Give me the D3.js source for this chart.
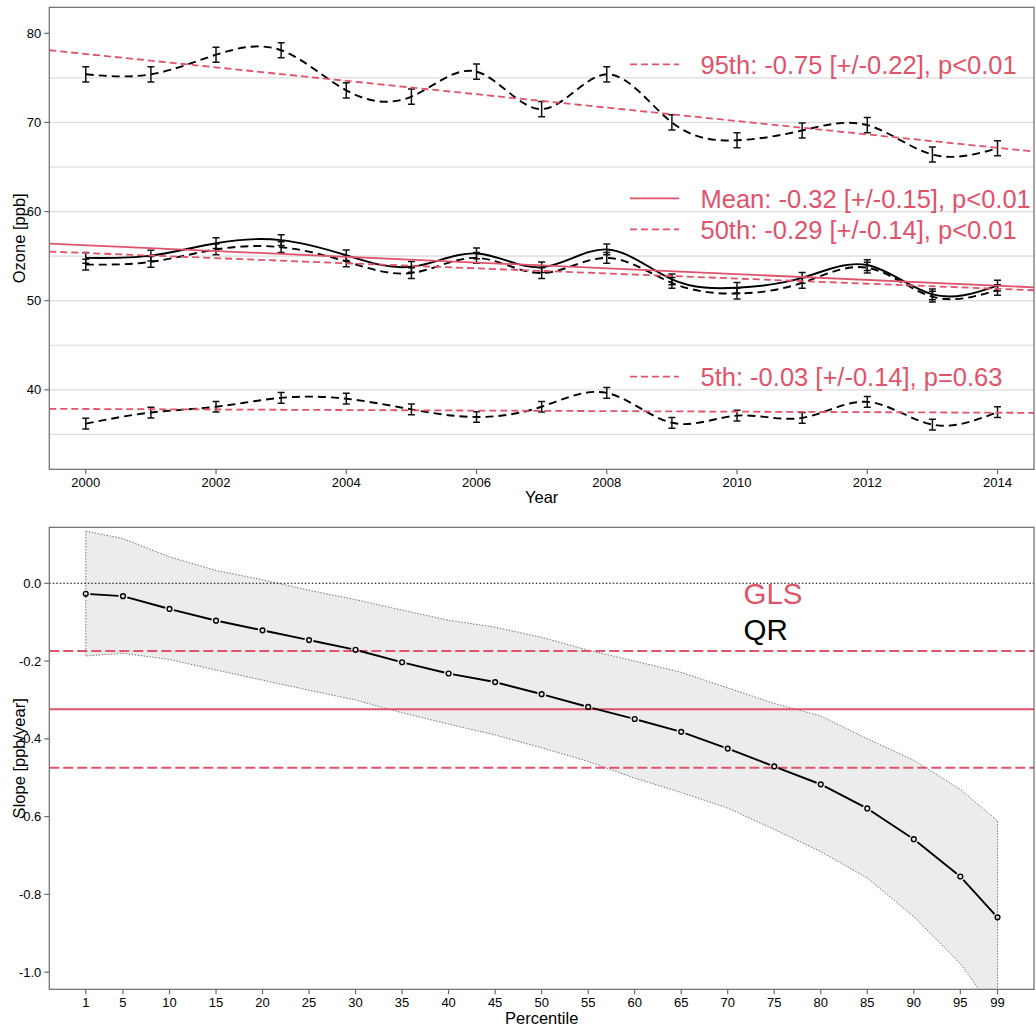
<!DOCTYPE html>
<html>
<head>
<meta charset="utf-8">
<script src="https://cdn.jsdelivr.net/npm/d3@7"></script>
<style>
  body { margin: 0; background: #fff; }
  svg { display: block; }
  text { font-family: "Liberation Sans", Arial, Helvetica, sans-serif; fill: #000; }
</style>
</head>
<body>
<svg id="chart" width="1036" height="1028"></svg>
<script>
// ---- Annual ozone statistics (ppb) ----
const years = [2000, 2001, 2002, 2003, 2004, 2005, 2006, 2007, 2008, 2009, 2010, 2011, 2012, 2013, 2014];
const p95   = [75.4, 75.4, 77.6, 78.1, 73.6, 72.9, 75.7, 71.5, 75.4, 70.0, 68.0, 69.1, 69.7, 66.4, 67.1];
const err95 = [0.85, 0.85, 0.85, 0.85, 0.85, 0.85, 0.85, 0.85, 0.85, 0.85, 0.85, 0.85, 0.85, 0.85, 0.85];
const meanO3  = [54.8, 55.05, 56.45, 56.8, 55.1, 53.8, 55.3, 53.75, 55.75, 52.4, 51.45, 52.55, 54.0, 50.7, 51.7];
const errMean = [0.6, 0.6, 0.6, 0.6, 0.6, 0.6, 0.6, 0.6, 0.6, 0.6, 0.6, 0.6, 0.6, 0.6, 0.6];
const p50   = [54.05, 54.35, 55.75, 56.0, 54.4, 53.1, 54.8, 53.1, 54.8, 52.0, 50.8, 52.0, 53.7, 50.45, 51.2];
const err50 = [0.6, 0.6, 0.6, 0.6, 0.6, 0.6, 0.6, 0.6, 0.6, 0.6, 0.6, 0.6, 0.6, 0.6, 0.6];
const p5    = [36.2, 37.45, 38.1, 39.1, 39.0, 37.8, 36.95, 38.1, 39.65, 36.3, 37.1, 36.85, 38.65, 36.1, 37.5];
const err5  = [0.6, 0.6, 0.6, 0.6, 0.6, 0.6, 0.6, 0.6, 0.6, 0.6, 0.6, 0.6, 0.6, 0.6, 0.6];

// ---- GLS trend fits: name, slope (ppb/yr), 95% half-width, value at 2000, p-value ----
const trendNames      = ["95th", "Mean", "50th", "5th"];
const trendSlopes     = [-0.752, -0.324, -0.287, -0.030];
const trendCI         = [0.22, 0.15, 0.14, 0.14];
const trendAt2000     = [77.68, 56.22, 55.35, 37.85];
const trendP          = ["p<0.01", "p<0.01", "p<0.01", "p=0.63"];
const trendSolid      = [false, true, false, false];

// ---- Quantile regression slopes by percentile (ppb/year) ----
const percentiles = [1, 5, 10, 15, 20, 25, 30, 35, 40, 45, 50, 55, 60, 65, 70, 75, 80, 85, 90, 95, 99];
const qrSlope = [-0.027, -0.033, -0.066, -0.096, -0.121, -0.146, -0.171, -0.203, -0.232, -0.254, -0.285,
                 -0.318, -0.349, -0.382, -0.425, -0.471, -0.517, -0.579, -0.658, -0.754, -0.859];
const qrUpper = [0.134, 0.115, 0.068, 0.033, 0.009, -0.018, -0.042, -0.069, -0.095, -0.113, -0.139,
                 -0.172, -0.200, -0.229, -0.269, -0.309, -0.341, -0.400, -0.455, -0.530, -0.611];
const qrLower = [-0.187, -0.180, -0.196, -0.223, -0.249, -0.275, -0.300, -0.333, -0.362, -0.390, -0.423,
                 -0.458, -0.501, -0.538, -0.578, -0.633, -0.690, -0.758, -0.857, -0.978, -1.11];

// ---- Axis ticks ----
const yearTicks = [2000, 2002, 2004, 2006, 2008, 2010, 2012, 2014];
const ozoneTicks = [40, 50, 60, 70, 80];
const ozoneGrid = [35, 40, 45, 50, 55, 60, 65, 70, 75];
const slopeTicks = [0, -0.2, -0.4, -0.6, -0.8, -1.0];
const slopeTickLabels = ["0.0", "-0.2", "-0.4", "-0.6", "-0.8", "-1.0"];
const pctTicks = [1, 5, 10, 15, 20, 25, 30, 35, 40, 45, 50, 55, 60, 65, 70, 75, 80, 85, 90, 95, 99];

const RED = "#DF536B";
const FRAME = "#6b6b6b";
const svg = d3.select("#chart");

// Shared horizontal extent of both panels
const L = 49.3, R = 1034;

// R-style padded domain (4% on each side)
function padded(lo, hi) { const p = (hi - lo) * 0.04; return [lo - p, hi + p]; }

// ================= Top panel: ozone time series =================
const panelA = { t: 7.3, b: 469.3 };
const x1 = d3.scaleLinear().domain(padded(2000, 2014)).range([L, R]);
const y1 = d3.scaleLinear().domain(padded(33, 81)).range([panelA.b, panelA.t]);

const defs = svg.append("defs");
defs.append("clipPath").attr("id", "clipTop")
  .append("rect").attr("x", L).attr("y", panelA.t).attr("width", R - L).attr("height", panelA.b - panelA.t);
defs.append("clipPath").attr("id", "clipBot")
  .append("rect").attr("x", L).attr("y", 527.3).attr("width", R - L).attr("height", 989.3 - 527.3);

const gTop = svg.append("g");
gTop.selectAll("line.grid").data(ozoneGrid).join("line")
  .attr("class", "grid")
  .attr("x1", L).attr("x2", R)
  .attr("y1", d => y1(d)).attr("y2", d => y1(d))
  .attr("stroke", "#dcdcdc").attr("stroke-width", 1.2);

const plotTop = gTop.append("g").attr("clip-path", "url(#clipTop)");

const seriesList = [
  { vals: p95, err: err95, dash: "8,5" },
  { vals: meanO3, err: errMean, dash: null },
  { vals: p50, err: err50, dash: "8,5" },
  { vals: p5, err: err5, dash: "8,5" }
];

const spline = d3.line().x(d => x1(d[0])).y(d => y1(d[1])).curve(d3.curveNatural);

seriesList.forEach(s => {
  const pts = years.map((yr, i) => [yr, s.vals[i], s.err[i]]);
  plotTop.append("path")
    .attr("d", spline(pts))
    .attr("fill", "none").attr("stroke", "#000").attr("stroke-width", 1.9)
    .attr("stroke-dasharray", s.dash);
  const eb = plotTop.append("g").attr("stroke", "#111").attr("stroke-width", 1.5);
  pts.forEach(p => {
    const cx = x1(p[0]), ya = y1(p[1] + p[2]), yb = y1(p[1] - p[2]);
    eb.append("line").attr("x1", cx).attr("x2", cx).attr("y1", ya).attr("y2", yb);
    eb.append("line").attr("x1", cx - 3.5).attr("x2", cx + 3.5).attr("y1", ya).attr("y2", ya);
    eb.append("line").attr("x1", cx - 3.5).attr("x2", cx + 3.5).attr("y1", yb).attr("y2", yb);
  });
});

// GLS trend lines
const xDom = x1.domain();
trendNames.forEach((n, i) => {
  const f = yr => trendAt2000[i] + trendSlopes[i] * (yr - 2000);
  plotTop.append("line")
    .attr("x1", x1(xDom[0])).attr("x2", x1(xDom[1]))
    .attr("y1", y1(f(xDom[0]))).attr("y2", y1(f(xDom[1])))
    .attr("stroke", RED).attr("stroke-width", 1.8)
    .attr("stroke-dasharray", trendSolid[i] ? null : "7,4");
});

// Trend legend entries
const legendY = [64.3, 198.3, 229.3, 376.7];
trendNames.forEach((n, i) => {
  gTop.append("line")
    .attr("x1", 630).attr("x2", 679)
    .attr("y1", legendY[i]).attr("y2", legendY[i])
    .attr("stroke", RED).attr("stroke-width", 1.8)
    .attr("stroke-dasharray", trendSolid[i] ? null : "7,4");
  gTop.append("text")
    .attr("x", 700.5).attr("y", legendY[i] + 9.5)
    .attr("font-size", 25.5).style("fill", RED)
    .text(`${n}: ${trendSlopes[i].toFixed(2)} [+/-${trendCI[i].toFixed(2)}], ${trendP[i]}`);
});

// Axes
gTop.selectAll("line.xt").data(yearTicks).join("line").attr("class", "xt")
  .attr("x1", d => x1(d)).attr("x2", d => x1(d)).attr("y1", panelA.b).attr("y2", panelA.b + 5)
  .attr("stroke", FRAME).attr("stroke-width", 1.2);
gTop.selectAll("text.xt").data(yearTicks).join("text").attr("class", "xt")
  .attr("x", d => x1(d)).attr("y", panelA.b + 17.5).attr("text-anchor", "middle")
  .attr("font-size", 13).text(d => d);
gTop.selectAll("line.yt").data(ozoneTicks).join("line").attr("class", "yt")
  .attr("x1", L - 5).attr("x2", L).attr("y1", d => y1(d)).attr("y2", d => y1(d))
  .attr("stroke", FRAME).attr("stroke-width", 1.2);
gTop.selectAll("text.yt").data(ozoneTicks).join("text").attr("class", "yt")
  .attr("x", L - 8).attr("y", d => y1(d) + 4.6).attr("text-anchor", "end")
  .attr("font-size", 13).text(d => d);
gTop.append("text").attr("x", (L + R) / 2).attr("y", 503).attr("text-anchor", "middle")
  .attr("font-size", 16.5).text("Year");
gTop.append("text").attr("transform", `translate(24.5,${(panelA.t + panelA.b) / 2}) rotate(-90)`)
  .attr("text-anchor", "middle").attr("font-size", 16.5).text("Ozone [ppb]");
gTop.append("rect").attr("x", L).attr("y", panelA.t).attr("width", R - L).attr("height", panelA.b - panelA.t)
  .attr("fill", "none").attr("stroke", FRAME).attr("stroke-width", 1.2);

// ================= Bottom panel: slope by percentile =================
const panelB = { t: 527.3, b: 989.3 };
const x2 = d3.scaleLinear().domain(padded(1, 99)).range([L, R]);
const y2 = d3.scaleLinear().domain(padded(-1, 0.1)).range([panelB.b, panelB.t]);
const gBot = svg.append("g");
const plotBot = gBot.append("g").attr("clip-path", "url(#clipBot)");

const qr = percentiles.map((p, i) => ({ p, v: qrSlope[i], lo: qrLower[i], hi: qrUpper[i] }));

// Confidence band with dotted outline
plotBot.append("path")
  .attr("d", d3.area().x(d => x2(d.p)).y0(d => y2(d.lo)).y1(d => y2(d.hi))(qr))
  .attr("fill", "#ececec").attr("stroke", "#6a6a6a").attr("stroke-width", 0.9)
  .attr("stroke-dasharray", "1.5,1.5");

// Zero reference
plotBot.append("line").attr("x1", L).attr("x2", R).attr("y1", y2(0)).attr("y2", y2(0))
  .attr("stroke", "#000").attr("stroke-width", 1.1).attr("stroke-dasharray", "1.5,2");

// GLS mean slope and its interval
const glsMean = trendSlopes[1], glsCI = trendCI[1];
[[glsMean, null], [glsMean + glsCI, "10,4"], [glsMean - glsCI, "10,4"]].forEach(([v, dash]) => {
  plotBot.append("line").attr("x1", L).attr("x2", R).attr("y1", y2(v)).attr("y2", y2(v))
    .attr("stroke", RED).attr("stroke-width", 2).attr("stroke-dasharray", dash);
});

// QR slopes: segments with gaps around each point marker
const gap = 4.5;
for (let i = 0; i < qr.length - 1; i++) {
  const ax = x2(qr[i].p), ay = y2(qr[i].v), bx = x2(qr[i + 1].p), by = y2(qr[i + 1].v);
  const len = Math.hypot(bx - ax, by - ay);
  if (len <= 2 * gap) continue;
  const ux = (bx - ax) / len, uy = (by - ay) / len;
  plotBot.append("line")
    .attr("x1", ax + ux * gap).attr("y1", ay + uy * gap)
    .attr("x2", bx - ux * gap).attr("y2", by - uy * gap)
    .attr("stroke", "#000").attr("stroke-width", 1.9);
}
plotBot.selectAll("circle").data(qr).join("circle")
  .attr("cx", d => x2(d.p)).attr("cy", d => y2(d.v)).attr("r", 2.4)
  .attr("fill", "none").attr("stroke", "#000").attr("stroke-width", 1.4);

// Method legend
gBot.append("text").attr("x", 743.5).attr("y", 603.5).attr("font-size", 29.5).style("fill", RED).text("GLS");
gBot.append("text").attr("x", 743.5).attr("y", 639.5).attr("font-size", 29.5).text("QR");

// Axes
gBot.selectAll("line.xt").data(pctTicks).join("line").attr("class", "xt")
  .attr("x1", d => x2(d)).attr("x2", d => x2(d)).attr("y1", panelB.b).attr("y2", panelB.b + 5)
  .attr("stroke", FRAME).attr("stroke-width", 1.2);
gBot.selectAll("text.xt").data(pctTicks).join("text").attr("class", "xt")
  .attr("x", d => x2(d)).attr("y", panelB.b + 17.5).attr("text-anchor", "middle")
  .attr("font-size", 13).text(d => d);
gBot.selectAll("line.yt").data(slopeTicks).join("line").attr("class", "yt")
  .attr("x1", L - 5).attr("x2", L).attr("y1", d => y2(d)).attr("y2", d => y2(d))
  .attr("stroke", FRAME).attr("stroke-width", 1.2);
gBot.selectAll("text.yt").data(slopeTicks).join("text").attr("class", "yt")
  .attr("x", L - 8).attr("y", d => y2(d) + 4.6).attr("text-anchor", "end")
  .attr("font-size", 13).text((d, i) => slopeTickLabels[i]);
gBot.append("text").attr("x", (L + R) / 2).attr("y", 1023.5).attr("text-anchor", "middle")
  .attr("font-size", 16.5).text("Percentile");
gBot.append("text").attr("transform", `translate(24.5,${(panelB.t + panelB.b) / 2}) rotate(-90)`)
  .attr("text-anchor", "middle").attr("font-size", 16.5).text("Slope [ppb/year]");
gBot.append("rect").attr("x", L).attr("y", panelB.t).attr("width", R - L).attr("height", panelB.b - panelB.t)
  .attr("fill", "none").attr("stroke", FRAME).attr("stroke-width", 1.2);
</script>
</body>
</html>
